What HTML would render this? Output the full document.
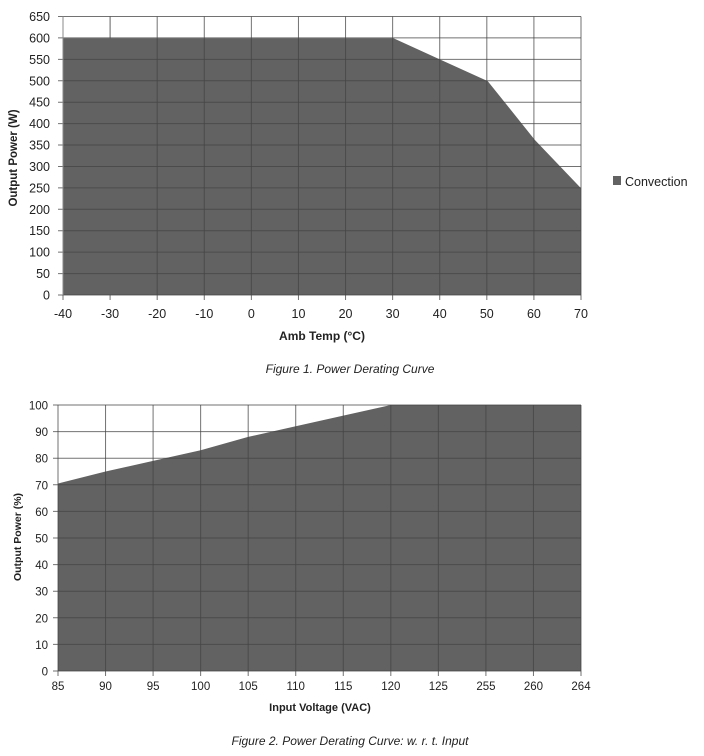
<!DOCTYPE html><html><head><style>body{margin:0;background:#fff}svg{display:block}text{font-family:"Liberation Sans","DejaVu Sans",sans-serif;fill:#222}</style></head><body>
<svg width="704" height="756" viewBox="0 0 704 756">
<g id="c1">
<polygon points="63,38.3 393.5,38.3 440.6,59.7 487.7,81.1 534.9,140 581,188.2 581,295 63,295" fill="#626262"/>
<g stroke="#303030" stroke-width="1" opacity="0.7">
<line x1="110.1" y1="16.5" x2="110.1" y2="295" stroke="#bbb"/>
</g>
</g>
<script>
(function(){
var s=document.querySelector('svg'),ns='http://www.w3.org/2000/svg';
function el(t,a,txt){var e=document.createElementNS(ns,t);for(var k in a)e.setAttribute(k,a[k]);if(txt!=null)e.textContent=txt;s.appendChild(e);return e;}
// chart1
var x0=63,x1=581,yT=16.5,yB=295,dx=(x1-x0)/11,dy=(yB-yT)/13;
for(var i=0;i<=11;i++){var x=x0+i*dx;el('line',{x1:x,y1:yT,x2:x,y2:yB+5,stroke:'#444','stroke-width':1,opacity:.75});el('text',{x:x,y:318,'font-size':12.5,'text-anchor':'middle'},String(-40+i*10));}
for(var j=0;j<=13;j++){var y=yB-j*dy;el('line',{x1:x0-5,y1:y,x2:x1,y2:y,stroke:'#444','stroke-width':1,opacity:.75});el('text',{x:50,y:y+4.5,'font-size':12.5,'text-anchor':'end'},String(j*50));}
el('line',{x1:x0,y1:yT,x2:x0,y2:yB,stroke:'#888'});
el('text',{x:322,y:340,'font-size':12,'font-weight':'bold','text-anchor':'middle'},'Amb Temp (°C)');
el('text',{x:0,y:0,'font-size':11.5,'font-weight':'bold','text-anchor':'middle',transform:'translate(17,158) rotate(-90)'},'Output Power (W)');
el('rect',{x:613,y:176,width:8,height:9,fill:'#626262'});
el('text',{x:625,y:186,'font-size':12.5},'Convection');
el('text',{x:350,y:373,'font-size':12,'font-style':'italic','text-anchor':'middle'},'Figure 1. Power Derating Curve');
// chart2
var X0=58,X1=581,YT=405,YB=671,DX=(X1-X0)/11,DY=(YB-YT)/10;
var v=[70.5,75,79,83,88,92,96,100,100,100,100,100],pts=[];
for(var i=0;i<12;i++)pts.push((X0+i*DX)+','+(YB-v[i]*DY/10));
pts.push(X1+','+YB,X0+','+YB);
el('polygon',{points:pts.join(' '),fill:'#626262'});
var lab=['85','90','95','100','105','110','115','120','125','255','260','264'];
for(var i=0;i<12;i++){var x=X0+i*DX;el('line',{x1:x,y1:YT,x2:x,y2:YB+5,stroke:'#444',opacity:.75});el('text',{x:x,y:690,'font-size':11.5,'text-anchor':'middle'},lab[i]);}
for(var j=0;j<=10;j++){var y=YB-j*DY;el('line',{x1:X0-5,y1:y,x2:X1,y2:y,stroke:'#444',opacity:.75});el('text',{x:48,y:y+4.5,'font-size':11.5,'text-anchor':'end'},String(j*10));}
el('text',{x:320,y:711,'font-size':11,'font-weight':'bold','text-anchor':'middle'},'Input Voltage (VAC)');
el('text',{x:0,y:0,'font-size':10.5,'font-weight':'bold','text-anchor':'middle',transform:'translate(21,537) rotate(-90)'},'Output Power (%)');
el('text',{x:350,y:745,'font-size':12,'font-style':'italic','text-anchor':'middle'},'Figure 2. Power Derating Curve: w. r. t. Input');
})();
</script>
</svg></body></html>
